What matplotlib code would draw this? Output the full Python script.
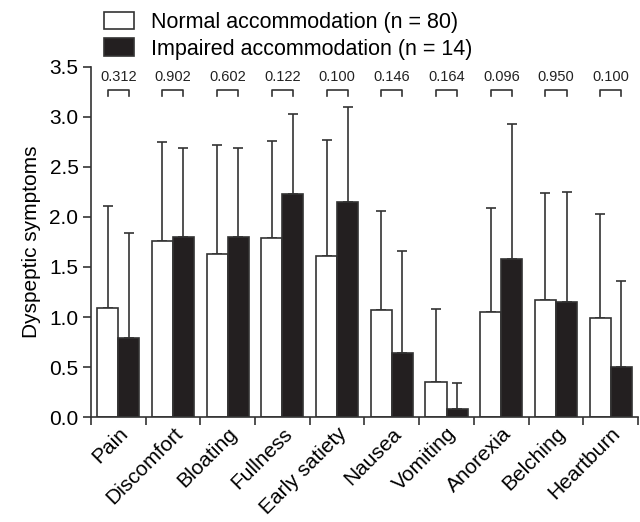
import matplotlib
matplotlib.use('Agg')
import matplotlib.pyplot as plt
from matplotlib.patches import Patch
import numpy as np

plt.rcParams['font.family'] = ['Liberation Sans', 'DejaVu Sans']

categories = ['Pain', 'Discomfort', 'Bloating', 'Fullness', 'Early satiety',
              'Nausea', 'Vomiting', 'Anorexia', 'Belching', 'Heartburn']
normal_mean = [1.09, 1.76, 1.63, 1.79, 1.61, 1.07, 0.35, 1.05, 1.17, 0.99]
normal_top = [2.11, 2.75, 2.72, 2.76, 2.77, 2.06, 1.08, 2.09, 2.24, 2.03]
impaired_mean = [0.79, 1.80, 1.80, 2.23, 2.15, 0.64, 0.08, 1.58, 1.15, 0.50]
impaired_top = [1.84, 2.69, 2.69, 3.03, 3.10, 1.66, 0.34, 2.93, 2.25, 1.36]
p_values = ['0.312', '0.902', '0.602', '0.122', '0.100',
            '0.146', '0.164', '0.096', '0.950', '0.100']

normal_sd = np.array(normal_top) - np.array(normal_mean)
impaired_sd = np.array(impaired_top) - np.array(impaired_mean)

fig = plt.figure(figsize=(6.4, 5.22), dpi=100)
ax = fig.add_axes([0.142, 0.201, 0.855, 0.671])

n = len(categories)
centers = np.arange(n) + 0.5
w = 0.385
edge = '#333333'
black = '#231f20'

ax.bar(centers - w / 2, normal_mean, w, color='white', edgecolor=edge, linewidth=1.2, zorder=2)
ax.bar(centers + w / 2, impaired_mean, w, color=black, edgecolor=edge, linewidth=1.2, zorder=2)
ax.errorbar(centers - w / 2, normal_mean, yerr=[np.zeros(n), normal_sd], fmt='none',
            ecolor=edge, elinewidth=1.2, capsize=3.5, capthick=1.2, zorder=1)
ax.errorbar(centers + w / 2, impaired_mean, yerr=[np.zeros(n), impaired_sd], fmt='none',
            ecolor=edge, elinewidth=1.2, capsize=3.5, capthick=1.2, zorder=1)

# p-value brackets
for c, p in zip(centers, p_values):
    x0, x1 = c - w / 2, c + w / 2
    ax.plot([x0, x0, x1, x1], [3.21, 3.27, 3.27, 3.21], color=edge, lw=1.2, clip_on=False)
    ax.text(c, 3.40, p, ha='center', va='center', fontsize=10.5, color='#222222')

ax.set_xlim(0, n)
ax.set_ylim(0, 3.5)
ax.set_yticks(np.arange(0, 3.51, 0.5))
ax.set_yticklabels([f'{v:.1f}' for v in np.arange(0, 3.51, 0.5)], fontsize=15)
ax.set_xticks(centers)
ax.set_xticklabels(categories, rotation=45, ha='right', rotation_mode='anchor', fontsize=15)
ax.tick_params(axis='x', which='major', length=0, pad=5)
ax.set_xticks(np.arange(n + 1), minor=True)
ax.tick_params(axis='x', which='minor', length=6, width=1.2, color=edge)
ax.tick_params(axis='y', length=6, width=1.2, color=edge, pad=3)
for s in ['top', 'right']:
    ax.spines[s].set_visible(False)
for s in ['left', 'bottom']:
    ax.spines[s].set_linewidth(1.2)
    ax.spines[s].set_color(edge)
ax.set_ylabel('Dyspeptic symptoms', fontsize=15, labelpad=6)

handles = [Patch(facecolor='white', edgecolor=edge, linewidth=1.2),
           Patch(facecolor=black, edgecolor=edge, linewidth=1.2)]
fig.legend(handles, ['Normal accommodation (n = 80)', 'Impaired accommodation (n = 14)'],
           loc='upper left', bbox_to_anchor=(0.132, 1.015), frameon=False, fontsize=15.5,
           handlelength=1.4, handleheight=0.9, labelspacing=0.25, handletextpad=0.8)

fig.savefig('out.png', dpi=100)
